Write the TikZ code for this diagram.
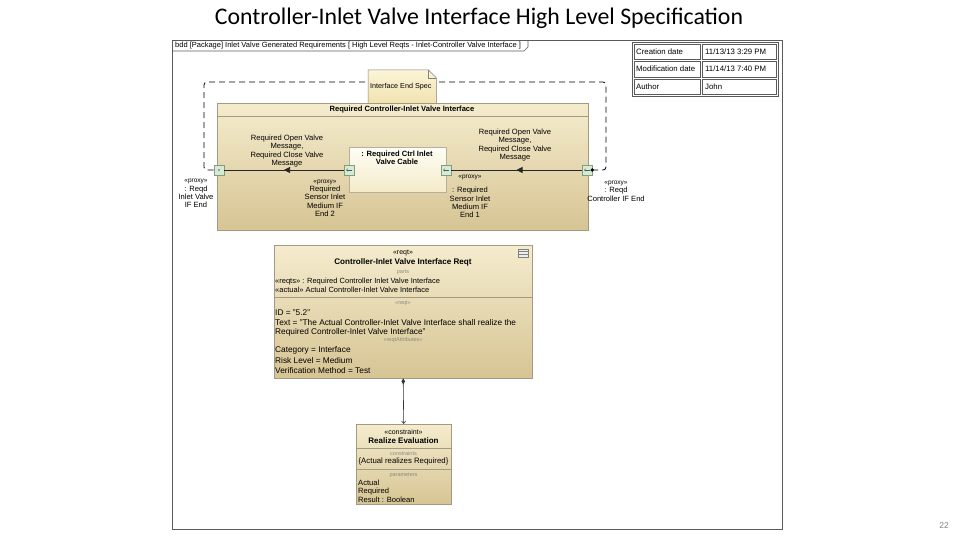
\documentclass[tikz,border=0pt]{standalone}
\usepackage{fontspec}
\setmainfont{Liberation Sans}
\newfontfamily\titlefont{Carlito}
\usetikzlibrary{arrows.meta,decorations.markings}
\definecolor{blkTop}{HTML}{F5ECCE}
\definecolor{blkBot}{HTML}{D6C493}
\definecolor{blkLine}{HTML}{A29B82}
\definecolor{partTop}{HTML}{FFFEF6}
\definecolor{partBot}{HTML}{F3EAC8}
\definecolor{portFill}{HTML}{D8EAD6}
\definecolor{portLine}{HTML}{7E9E80}
\definecolor{noteTop}{HTML}{FBF4D6}
\definecolor{noteBot}{HTML}{F1E2B0}
\definecolor{frameLine}{HTML}{5A5A5A}
\definecolor{capGray}{HTML}{8A8A80}
\begin{document}
\begin{tikzpicture}[x=1pt,y=-1pt,
  lbl/.style={font=\fontsize{7.6}{8.3}\selectfont, align=center, inner sep=0pt},
  txt/.style={font=\fontsize{8.3}{9.5}\selectfont, anchor=base west, inner sep=0pt},
  small/.style={font=\fontsize{7.5}{8.5}\selectfont, anchor=base west, inner sep=0pt},
  captxt/.style={font=\fontsize{5.5}{6}\selectfont, text=capGray, inner sep=0pt},
  blk/.style={draw=blkLine, top color=blkTop, bottom color=blkBot, anchor=north west, inner sep=0pt},
  port/.style={draw=portLine, fill=portFill, minimum size=10pt, inner sep=0pt},
  conn/.style={draw=black!85, line width=0.7pt},
  midarrow/.style={postaction={decorate}, decoration={markings, mark=at position 0.5 with {\arrow{Triangle[length=6pt,width=6pt]}}}},
  dashline/.style={dash pattern=on 6pt off 4pt, line width=0.8pt, rounded corners=3pt},
  cell/.style={draw=frameLine, line width=0.5pt, anchor=north west, inner sep=0pt},
  celltxt/.style={font=\fontsize{7.8}{9}\selectfont, anchor=west, inner sep=0pt}]
\useasboundingbox (0,0) rectangle (960,540);

% title and page number
\node[font=\titlefont\fontsize{23.8}{28}\selectfont] (title) at (479,18) {Controller-Inlet Valve Interface High Level Specification};
\node[font=\fontsize{8.5}{10}\selectfont, text=gray] (pg) at (944,526) {22};

% frame
\node[draw=frameLine, line width=0.8pt, minimum width=610pt, minimum height=489pt, anchor=north west, inner sep=0pt] (frame) at (172,40) {};
\draw[frameLine, line width=0.6pt] (172,51) -- (524,51) -- (528,47) -- (528,40);
\node[font=\fontsize{7.5}{8}\selectfont, anchor=west, inner sep=0pt] (tabtxt) at (175,45.5) {bdd [Package] Inlet Valve Generated Requirements [ High Level Reqts - Inlet-Controller Valve Interface ]};

% info table
\node[draw=frameLine, line width=0.6pt, minimum width=146pt, minimum height=54pt, anchor=north west, inner sep=0pt] (info) at (632,42) {};
\node[cell, minimum width=66pt, minimum height=15pt] (c11) at (634,44) {};
\node[cell, minimum width=74pt, minimum height=15pt] (c12) at (702,44) {};
\node[cell, minimum width=66pt, minimum height=16pt] (c21) at (634,61) {};
\node[cell, minimum width=74pt, minimum height=16pt] (c22) at (702,61) {};
\node[cell, minimum width=66pt, minimum height=15pt] (c31) at (634,79) {};
\node[cell, minimum width=74pt, minimum height=15pt] (c32) at (702,79) {};
\node[celltxt] (t11) at (636,51.5) {Creation date};
\node[celltxt] (t12) at (705,51.5) {11/13/13 3:29 PM};
\node[celltxt] (t21) at (636,69) {Modification date};
\node[celltxt] (t22) at (705,69) {11/14/13 7:40 PM};
\node[celltxt] (t31) at (636,86.5) {Author};
\node[celltxt] (t32) at (705,86.5) {John};

% dashed connector
\coordinate (dR) at (592,170);
\coordinate (dL) at (214,170);
\draw[dashline] (dR) -- (606,170) -- (606,82) -- (204,82) -- (204,170) -- (dL);

% note
\node[inner sep=0pt, minimum width=68pt, minimum height=33pt, anchor=north west] (note) at (368,70) {};
\draw[draw=gray, top color=noteTop, bottom color=noteBot, line width=0.5pt]
  (note.north west) -- ([xshift=-8pt]note.north east) -- ([yshift=-8pt]note.north east) -- (note.south east) -- (note.south west) -- cycle;
\draw[gray, line width=0.5pt] ([xshift=-8pt]note.north east) |- ([yshift=-8pt]note.north east);
\node[lbl, font=\fontsize{7.2}{8}\selectfont, anchor=west] (notetxt) at (370,87) {Interface End Spec};

% interface block
\node[blk, minimum width=371pt, minimum height=127pt] (ifc) at (217,103) {};
\draw[blkLine] (217,116) -- (588,116);
\node[font=\bfseries\fontsize{7.6}{8}\selectfont, inner sep=0pt] (ifct) at (402,110) {Required Controller-Inlet Valve Interface};

% part
\node[draw=blkLine!80, top color=partTop, bottom color=partBot, anchor=north west, minimum width=97pt, minimum height=45pt, inner sep=0pt] (part) at (349,147) {};
\node[lbl, font=\bfseries\fontsize{7.6}{8.3}\selectfont] (partt) at (397,158) {: Required Ctrl Inlet\\Valve Cable};

% ports
\node[port] (pL) at (219,170) {};
\node[port] (pPL) at (349,170) {};
\node[port] (pPR) at (446,170) {};
\node[port] (pR) at (587,170) {};
\fill[portLine!60!black] (pL.center) circle (0.8pt);
\draw[portLine!60!black, line width=0.4pt, -{Straight Barb[length=1.5pt,width=2.5pt]}] ([xshift=3pt]pPL.center) -- ([xshift=-3pt]pPL.center);
\draw[portLine!60!black, line width=0.4pt, -{Straight Barb[length=1.5pt,width=2.5pt]}] ([xshift=3pt]pPR.center) -- ([xshift=-3pt]pPR.center);
\draw[portLine!60!black, line width=0.4pt, -{Straight Barb[length=1.5pt,width=2.5pt]}] ([xshift=3pt]pR.center) -- ([xshift=-3pt]pR.center);

% connectors
\draw[conn, midarrow] (pR) -- (pPR);
\draw[conn, midarrow] (pPL) -- (pL);
\fill (pR.east) circle (1.8pt);

% connector labels
\node[lbl] (lblL) at (287,151) {Required Open Valve\\Message,\\Required Close Valve\\Message};
\node[lbl] (lblR) at (515,145) {Required Open Valve\\Message,\\Required Close Valve\\Message};

% port labels
\node[lbl] (plL) at (196,193.5) {{\fontsize{6.5}{7}\selectfont «proxy»}\\: Reqd\\Inlet Valve\\IF End};
\node[lbl] (plPL) at (325,198) {{\fontsize{6.5}{7}\selectfont «proxy»}\\Required\\Sensor Inlet\\Medium IF\\End 2};
\node[lbl] (plPR) at (470,177) {\fontsize{6.5}{7}\selectfont «proxy»};
\node[lbl] (plPR2) at (470,202.5) {: Required\\Sensor Inlet\\Medium IF\\End 1};
\node[lbl] (plR) at (616,191) {{\fontsize{6.5}{7}\selectfont «proxy»}\\: Reqd\\Controller IF End};

% requirement block
\node[blk, minimum width=258pt, minimum height=133pt] (req) at (274,245) {};
\draw[blkLine] (274,297) -- (532,297);
\node[lbl, font=\fontsize{7}{8}\selectfont] (reqst) at (403,252.5) {«reqt»};
\node[lbl, font=\bfseries\fontsize{8.1}{9}\selectfont] (reqt) at (403,262.5) {Controller-Inlet Valve Interface Reqt};
\draw[gray, line width=0.5pt, fill=white!85!gray] (518.5,249) rectangle (528,257);
\draw[gray, line width=0.5pt] (518.5,251.5) -- (528,251.5) (518.5,254) -- (528,254);
\node[captxt] (capparts) at (403,272.5) {parts};
\node[small] (r1) at (275,283.5) {«reqts» : Required Controller Inlet Valve Interface};
\node[small] (r2) at (275,292) {«actual» Actual Controller-Inlet Valve Interface};
\node[captxt] (capreqt) at (403,303) {«reqt»};
\node[txt] (r3) at (275,315) {ID = "5.2"};
\node[txt] (r4) at (275,325) {Text = "The Actual Controller-Inlet Valve Interface shall realize the};
\node[txt] (r5) at (275,334.5) {Required Controller-Inlet Valve Interface"};
\node[captxt] (capattr) at (403,340.5) {«reqtAttributes»};
\node[txt] (r6) at (275,352.5) {Category = Interface};
\node[txt] (r7) at (275,363) {Risk Level = Medium};
\node[txt] (r8) at (275,373.5) {Verification Method = Test};

% constraint block
\node[blk, minimum width=95pt, minimum height=80pt] (cons) at (356,424) {};
\draw[blkLine] (356,448) -- (451,448);
\draw[blkLine] (356,469) -- (451,469);
\node[lbl, font=\fontsize{7}{8}\selectfont] (consst) at (403.5,431.5) {«constraint»};
\node[lbl, font=\bfseries\fontsize{8}{9}\selectfont] (const) at (403.5,441) {Realize Evaluation};
\node[captxt] (capcons) at (403.5,454) {constraints};
\node[lbl, font=\fontsize{7.8}{9}\selectfont] (c1) at (403.5,461.5) {\{Actual realizes Required\}};
\node[captxt] (cappar) at (403.5,475) {parameters};
\node[small, font=\fontsize{7.6}{8}\selectfont] (c2) at (358,485) {Actual};
\node[small, font=\fontsize{7.6}{8}\selectfont] (c3) at (358,493.5) {Required};
\node[small, font=\fontsize{7.6}{8}\selectfont] (c4) at (358,502) {Result : Boolean};

% composition connector
\draw[black!80, line width=0.6pt, {Diamond[length=6pt,width=3.5pt]}-{Straight Barb[length=2.5pt,width=4pt]}] (req.south) -- (cons.north);
\end{tikzpicture}
\end{document}
